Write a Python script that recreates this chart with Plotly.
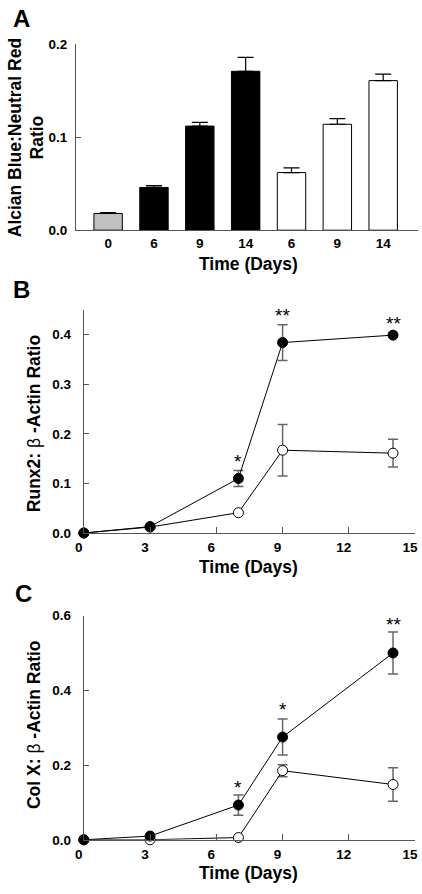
import plotly.graph_objects as go

# ---------------- Data ----------------
# Panel A
bar_labels = ["0", "6", "9", "14", "6", "9", "14"]
bar_values = [0.018, 0.046, 0.112, 0.171, 0.062, 0.114, 0.161]
bar_errors = [0.001, 0.002, 0.004, 0.015, 0.005, 0.006, 0.007]
bar_colors = ["#c0c0c0", "black", "black", "black", "white", "white", "white"]

# Panel B (Runx2)
days = [0, 3, 7, 9, 14]
runx2_filled = [0.0, 0.013, 0.110, 0.384, 0.399]
runx2_filled_err = [0.0, 0.0, 0.016, 0.036, 0.0]
runx2_open = [0.0, 0.012, 0.041, 0.167, 0.161]
runx2_open_err = [0.0, 0.0, 0.0, 0.052, 0.028]
runx2_star_days = [7, 9, 14]
runx2_star_text = ["*", "**", "**"]
runx2_star_y = [0.145, 0.438, 0.422]

# Panel C (Col X)
colx_filled = [0.0, 0.010, 0.093, 0.275, 0.500]
colx_filled_err = [0.0, 0.0, 0.027, 0.048, 0.056]
colx_open = [0.0, 0.0, 0.006, 0.185, 0.148]
colx_open_err = [0.0, 0.0, 0.0, 0.016, 0.045]
colx_star_days = [7, 9, 14]
colx_star_text = ["*", "*", "**"]
colx_star_y = [0.141, 0.348, 0.576]

W, H = 422, 894
FONT = "Arial, Liberation Sans, Helvetica, sans-serif"
AXCOL = "#555555"
ERRCOL = "#666666"


def px_x(p):
    return p / W


def px_y(p):
    return 1 - p / H


fig = go.Figure()

# ---- Panel A bars ----
fig.add_trace(go.Bar(
    x=list(range(len(bar_values))), y=bar_values,
    marker=dict(color=bar_colors, line=dict(color="black", width=1)),
    width=0.62,
    error_y=dict(type="data", array=bar_errors, arrayminus=[0] * len(bar_errors),
                 symmetric=False, color="black", thickness=1.2, width=8),
    xaxis="x", yaxis="y", showlegend=False,
))


def add_series(xa, ya, yvals, err, filled):
    fig.add_trace(go.Scatter(
        x=days, y=yvals, mode="lines+markers",
        line=dict(color="black", width=1),
        marker=dict(size=10, color="black" if filled else "white",
                    line=dict(color="black", width=1)),
        error_y=dict(type="data", array=err, color=ERRCOL, thickness=1.5, width=5),
        cliponaxis=False, xaxis=xa, yaxis=ya, showlegend=False,
    ))


add_series("x2", "y2", runx2_open, runx2_open_err, False)
add_series("x2", "y2", runx2_filled, runx2_filled_err, True)
add_series("x3", "y3", colx_open, colx_open_err, False)
add_series("x3", "y3", colx_filled, colx_filled_err, True)

tickfont = dict(family=FONT, size=13.5, color="black", weight="bold")

common_axis = dict(showline=True, linecolor=AXCOL, linewidth=1.2, showgrid=False,
                   zeroline=False, tickfont=tickfont, tickcolor=AXCOL,
                   ticklabeloverflow="allow")

fig.update_layout(
    width=W, height=H, margin=dict(l=0, r=0, t=0, b=0),
    paper_bgcolor="white", plot_bgcolor="white",
    xaxis=dict(common_axis, domain=[px_x(69), px_x(421)], range=[-0.70, 6.76],
               tickmode="array", tickvals=list(range(len(bar_labels))), ticktext=bar_labels,
               ticks="", anchor="y", ticklabelstandoff=1),
    yaxis=dict(common_axis, domain=[px_y(227), px_y(38)], range=[0, 0.2],
               tickvals=[0, 0.1, 0.2], ticktext=["0.0", "0.1", "0.2"],
               ticks="inside", ticklen=5, anchor="x", ticklabelstandoff=5),
    xaxis2=dict(common_axis, domain=[px_x(77), px_x(418)], range=[0, 15],
                tickvals=[0, 3, 6, 9, 12, 15], ticks="inside", ticklen=6, anchor="y2",
                ticklabelshift=-5, ticklabelstandoff=2),
    yaxis2=dict(common_axis, domain=[px_y(535), px_y(308)], range=[0, 0.45],
                tickvals=[0, 0.1, 0.2, 0.3, 0.4], ticktext=["0.0", "0.1", "0.2", "0.3", "0.4"],
                ticks="inside", ticklen=5, anchor="x2", ticklabelstandoff=9),
    xaxis3=dict(common_axis, domain=[px_x(77), px_x(418)], range=[0, 15],
                tickvals=[0, 3, 6, 9, 12, 15], ticks="inside", ticklen=6, anchor="y3",
                ticklabelshift=-5, ticklabelstandoff=2),
    yaxis3=dict(common_axis, domain=[px_y(847), px_y(619)], range=[0, 0.6],
                tickvals=[0, 0.2, 0.4, 0.6], ticktext=["0.0", "0.2", "0.4", "0.6"],
                ticks="inside", ticklen=5, anchor="x3", ticklabelstandoff=9),
)

annots = []


def ann(x, y, text, size=17.5, angle=0, weight="bold", xanchor="center", yanchor="middle"):
    annots.append(dict(x=px_x(x), y=px_y(y), xref="paper", yref="paper", text=text,
                       showarrow=False, textangle=angle, xanchor=xanchor, yanchor=yanchor,
                       font=dict(family=FONT, size=size, color="black", weight=weight)))


# panel letters
ann(13, 12, "A", size=24)
ann(13, 287, "B", size=24)
ann(15, 596, "C", size=24)

# x titles
ann(247, 261, "Time (Days)")
ann(247, 570, "Time (Days)")
ann(247, 881, "Time (Days)")

# y titles
ann(18, 133, "Alcian Blue:Neutral Red<br>Ratio", angle=-90)
ann(26, 424, "<b>Runx2: </b>β<b> -Actin Ratio</b>", angle=-90, weight="normal")
ann(25, 730, "<b>Col X: </b>β<b> -Actin Ratio</b>", angle=-90, weight="normal")

# significance stars
for d, t, yv in zip(runx2_star_days, runx2_star_text, runx2_star_y):
    annots.append(dict(x=d, y=yv, xref="x2", yref="y2", text=t, showarrow=False,
                       font=dict(family=FONT, size=19, color="black")))
for d, t, yv in zip(colx_star_days, colx_star_text, colx_star_y):
    annots.append(dict(x=d, y=yv, xref="x3", yref="y3", text=t, showarrow=False,
                       font=dict(family=FONT, size=19, color="black")))

fig.update_layout(annotations=annots)

fig.write_html("out.html", config={"displayModeBar": False},
               post_script="document.body.style.margin='0';")
